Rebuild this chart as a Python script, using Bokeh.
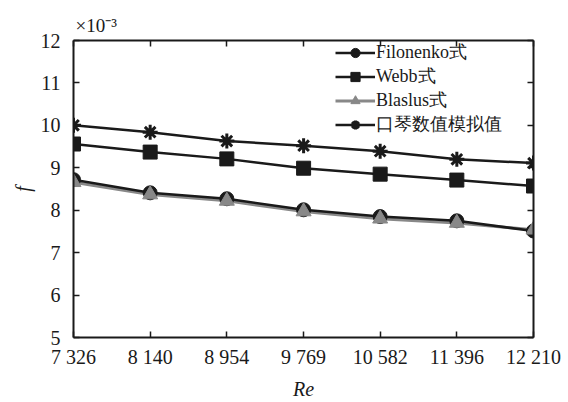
from bokeh.plotting import figure
from bokeh.models import LinearAxis, FixedTicker, Legend, LegendItem, Range1d, Title
from bokeh.embed import file_html
from bokeh.resources import INLINE

re_values = [7326, 8140, 8954, 9769, 10582, 11396, 12210]
re_labels = ["7 326", "8 140", "8 954", "9 769", "10 582", "11 396", "12 210"]
y_ticks = [5, 6, 7, 8, 9, 10, 11, 12]

filonenko = [8.72, 8.41, 8.27, 8.01, 7.85, 7.75, 7.51]
webb = [9.56, 9.37, 9.21, 8.99, 8.85, 8.71, 8.57]
blaslus = [8.66, 8.37, 8.22, 7.97, 7.80, 7.70, 7.54]
simulated = [10.00, 9.84, 9.63, 9.52, 9.39, 9.20, 9.11]

names = ["Filonenko式", "Webb式", "Blaslus式", "口琴数值模拟值"]

FONT = "Liberation Serif, Noto Serif CJK SC, Noto Sans CJK SC"
BLACK = "#1a1a1a"
GRAY = "#888888"

p = figure(width=568, height=402, output_backend="svg", toolbar_location=None,
           x_range=Range1d(7326, 12210), y_range=Range1d(5, 12),
           min_border_left=73, min_border_right=35, min_border_top=40, min_border_bottom=65)
p.outline_line_color = None
p.xgrid.visible = False
p.ygrid.visible = False
p.background_fill_color = "white"
p.border_fill_color = "white"

def style_axis(ax):
    ax.axis_line_width = 2
    ax.axis_line_color = BLACK
    ax.major_tick_in = 6
    ax.major_tick_out = 0
    ax.major_tick_line_width = 1.5
    ax.major_tick_line_color = BLACK
    ax.minor_tick_line_color = None
    ax.major_label_text_font = FONT
    ax.major_label_text_font_size = "20px"
    ax.major_label_text_color = BLACK
    ax.axis_label_text_font = FONT
    ax.axis_label_text_font_style = "italic"
    ax.axis_label_text_font_size = "20px"
    ax.axis_label_text_color = BLACK

xa = p.xaxis[0]
xa.ticker = FixedTicker(ticks=re_values)
xa.major_label_overrides = {v: l for v, l in zip(re_values, re_labels)}
xa.axis_label = "Re"
xa.major_label_standoff = 8
xa.axis_label_standoff = 7
style_axis(xa)

ya = p.yaxis[0]
ya.ticker = FixedTicker(ticks=y_ticks)
ya.axis_label = "f"
ya.major_label_standoff = 13
ya.axis_label_standoff = 4
style_axis(ya)

top = LinearAxis(ticker=FixedTicker(ticks=re_values))
style_axis(top)
top.major_label_overrides = {v: "" for v in re_values}
top.major_label_standoff = 0
p.add_layout(top, "above")
right = LinearAxis(ticker=FixedTicker(ticks=y_ticks))
style_axis(right)
right.major_label_overrides = {v: "" for v in y_ticks}
right.major_label_standoff = 0
p.add_layout(right, "right")

p.add_layout(Title(text="×10⁻³", text_font=FONT, text_font_size="19px",
                   text_font_style="normal", text_color=BLACK, offset=2), "above")

lb = p.line(re_values, blaslus, line_color=GRAY, line_width=3)
lf = p.line(re_values, filonenko, line_color=BLACK, line_width=2.5)
lw = p.line(re_values, webb, line_color=BLACK, line_width=2.5)
ls = p.line(re_values, simulated, line_color=BLACK, line_width=2.5)
mf = p.scatter(re_values, filonenko, marker="circle", size=14, fill_color=BLACK, line_color=BLACK)
mw = p.scatter(re_values, webb, marker="square", size=14, fill_color=BLACK, line_color=BLACK)
mb = p.scatter(re_values, blaslus, marker="triangle", size=15, fill_color=GRAY, line_color=GRAY)
ms = p.scatter(re_values, simulated, marker="asterisk", size=15, line_color=BLACK, line_width=3)

legend = Legend(items=[
    LegendItem(label=names[0], renderers=[lf, mf]),
    LegendItem(label=names[1], renderers=[lw, mw]),
    LegendItem(label=names[2], renderers=[lb, mb]),
    LegendItem(label=names[3], renderers=[ls, ms]),
], location=(262, 201), orientation="vertical")
legend.border_line_color = None
legend.background_fill_alpha = 0
legend.label_text_font = "Liberation Serif"
legend.label_text_font_size = "18px"
legend.label_text_line_height = 1.0
legend.label_text_color = BLACK
legend.glyph_width = 40
legend.glyph_height = 23
legend.spacing = 0
legend.padding = 2
legend.margin = 0
legend.label_standoff = 1
legend.label_height = 20
p.add_layout(legend, "center")

open("out.html", "w").write(file_html(p, INLINE))
